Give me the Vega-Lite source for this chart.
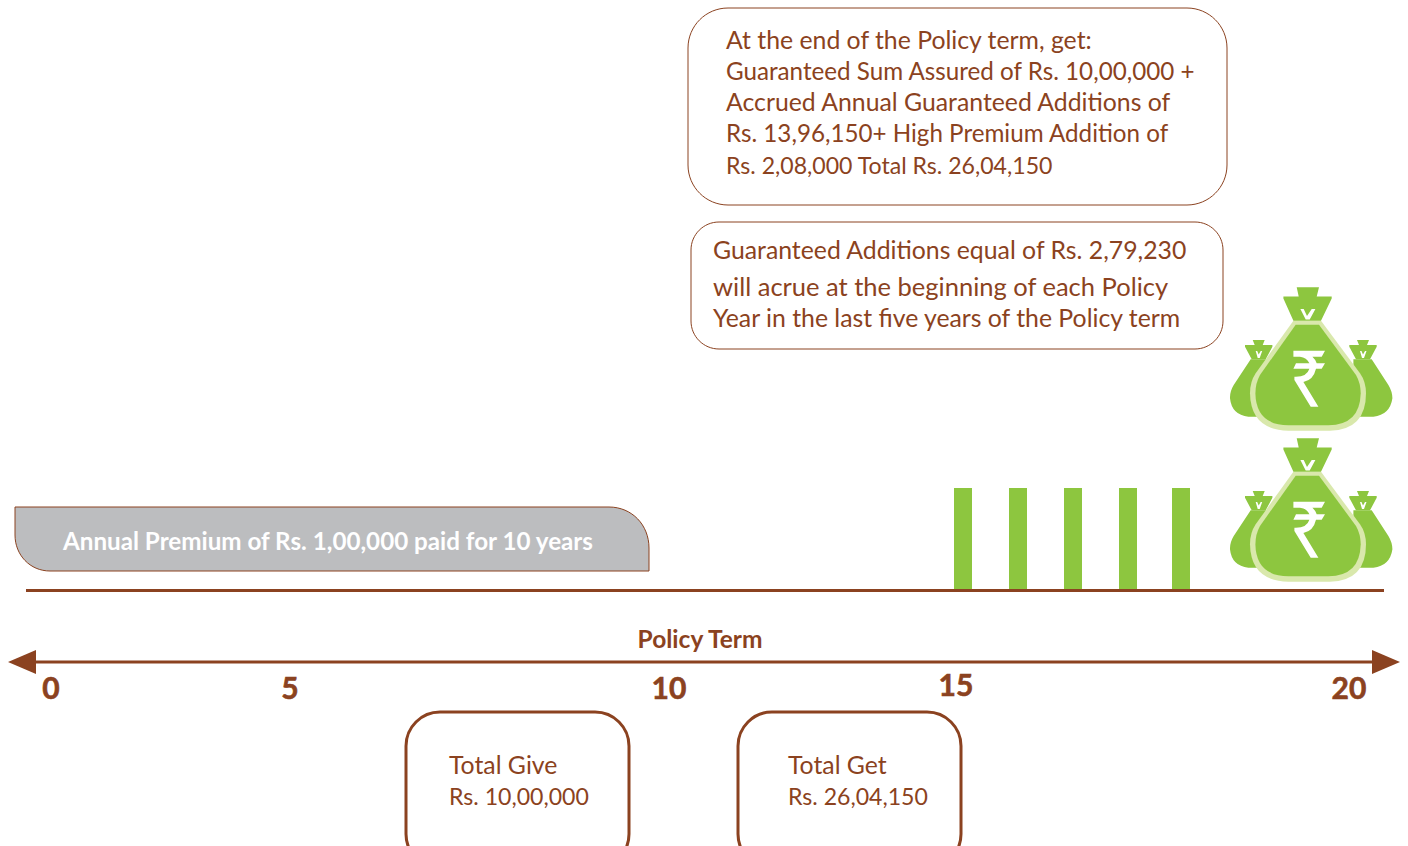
{"$schema":"https://vega.github.io/schema/vega-lite/v6.json","width":1408,"height":846,"autosize":{"type":"fit","contains":"padding"},"padding":0,"background":"white","config":{"view":{"stroke":null}},
"encoding":{"x":{"field":"x","type":"quantitative","scale":{"domain":[0,1408],"nice":false,"zero":false},"axis":null},"y":{"field":"y","type":"quantitative","scale":{"domain":[846,0],"nice":false,"zero":false},"axis":null}},
"layer":[
{"data":{"values":[{"x":332,"y":539}]},"mark":{"type":"point","filled":true,"opacity":1,"fill":"#BCBDBF","stroke":"#8B4220","strokeWidth":1,"size":40000,"shape":"M-3.17,-0.32L2.77,-0.32C3.0,-0.32,3.17,-0.14,3.17,0.09L3.17,0.32L-2.82,0.32C-3.02,0.32,-3.17,0.16,-3.17,-0.04Z"}},
{"data":{"values":[{"x":688,"x2":1227,"y":8,"y2":205}]},"mark":{"type":"rect","fill":"white","stroke":"#8B4220","strokeWidth":1,"cornerRadius":40},"encoding":{"x2":{"field":"x2"},"y2":{"field":"y2"}}},
{"data":{"values":[{"x":691,"x2":1223,"y":222,"y2":349}]},"mark":{"type":"rect","fill":"white","stroke":"#8B4220","strokeWidth":1,"cornerRadius":28},"encoding":{"x2":{"field":"x2"},"y2":{"field":"y2"}}},
{"data":{"values":[{"x":406,"x2":629,"y":712,"y2":868},{"x":738,"x2":961,"y":712,"y2":868}]},"mark":{"type":"rect","fill":"white","stroke":"#8B4220","strokeWidth":3,"cornerRadius":34,"clip":true},"encoding":{"x2":{"field":"x2"},"y2":{"field":"y2"}}},
{"data":{"values":[{"x":954,"x2":972,"y":488,"y2":590},{"x":1009,"x2":1027,"y":488,"y2":590},{"x":1064,"x2":1082,"y":488,"y2":590},{"x":1119,"x2":1137,"y":488,"y2":590},{"x":1172,"x2":1190,"y":488,"y2":590}]},"mark":{"type":"rect","fill":"#8DC63F"},"encoding":{"x2":{"field":"x2"},"y2":{"field":"y2"}}},
{"data":{"values":[{"x":26,"x2":1384,"y":590.5},{"x":36,"x2":1372,"y":662}]},"mark":{"type":"rule","stroke":"#8B4220","strokeWidth":3},"encoding":{"x2":{"field":"x2"}}},
{"data":{"values":[{"x":22,"y":662}]},"mark":{"type":"point","filled":true,"opacity":1,"fill":"#8B4220","stroke":null,"size":784,"shape":"M-1,0L1,-0.86L1,0.86Z"}},
{"data":{"values":[{"x":1386,"y":662}]},"mark":{"type":"point","filled":true,"opacity":1,"fill":"#8B4220","stroke":null,"size":784,"shape":"M1,0L-1,-0.86L-1,0.86Z"}},
{"data":{"values":[{"x":1307.7,"y":360},{"x":1307.7,"y":511}]},"mark":{"type":"point","filled":true,"opacity":1,"fill":"#8DC63F","stroke":null,"size":40000,"shape":"M-0.57,-0.007L-0.74,0.25Q-0.78,0.317,-0.777,0.383Q-0.76,0.55,-0.593,0.567L-0.41,0.567L-0.41,-0.007ZM0.64,-0.007L0.457,-0.007L0.457,0.567L0.657,0.567Q0.823,0.55,0.847,0.383Q0.847,0.317,0.807,0.25Z"}},
{"data":{"values":[{"x":1307.7,"y":360},{"x":1307.7,"y":511}]},"mark":{"type":"point","filled":true,"opacity":1,"fill":"#8DC63F","stroke":null,"size":40000,"shape":"M-0.56,-0.007L-0.627,-0.133L-0.627,-0.15L-0.53,-0.15L-0.55,-0.2L-0.43,-0.2L-0.45,-0.15L-0.353,-0.15L-0.353,-0.133L-0.42,-0.007ZM0.483,-0.007L0.416,-0.133L0.416,-0.15L0.513,-0.15L0.493,-0.2L0.613,-0.2L0.593,-0.15L0.69,-0.15L0.69,-0.133L0.623,-0.007Z"}},
{"data":{"values":[{"x":1307.7,"y":360},{"x":1307.7,"y":511}]},"mark":{"type":"point","filled":true,"opacity":1,"fill":"white","stroke":null,"size":40000,"shape":"M-0.52,-0.09L-0.505,-0.09L-0.49,-0.055L-0.47,-0.09L-0.455,-0.09L-0.48,-0.02L-0.5,-0.02ZM0.523,-0.09L0.538,-0.09L0.553,-0.055L0.573,-0.09L0.588,-0.09L0.563,-0.02L0.543,-0.02Z"}},
{"data":{"values":[{"x":1307.7,"y":360},{"x":1307.7,"y":511}]},"mark":{"type":"point","filled":true,"opacity":1,"fill":"#D9E8AC","stroke":null,"size":40000,"shape":"M-0.143,-0.393L0.133,-0.393L0.523,0.133Q0.583,0.217,0.583,0.333Q0.583,0.7,0.223,0.707L-0.193,0.707Q-0.57,0.7,-0.577,0.333Q-0.577,0.217,-0.52,0.133Z"}},
{"data":{"values":[{"x":1307.7,"y":360},{"x":1307.7,"y":511}]},"mark":{"type":"point","filled":true,"opacity":1,"fill":"#8DC63F","stroke":null,"size":40000,"shape":"M-0.12,-0.353L0.113,-0.353L0.483,0.15Q0.53,0.233,0.53,0.333Q0.523,0.65,0.207,0.653L-0.193,0.653Q-0.517,0.65,-0.523,0.333Q-0.523,0.233,-0.477,0.15Z"}},
{"data":{"values":[{"x":1307.7,"y":360},{"x":1307.7,"y":511}]},"mark":{"type":"point","filled":true,"opacity":1,"fill":"#8DC63F","stroke":null,"size":40000,"shape":"M-0.143,-0.393L-0.243,-0.615L-0.243,-0.635L-0.09,-0.635L-0.11,-0.727L0.113,-0.727L0.09,-0.635L0.24,-0.635L0.24,-0.615L0.133,-0.393Z"}},
{"data":{"values":[{"x":1307.7,"y":360},{"x":1307.7,"y":511}]},"mark":{"type":"point","filled":true,"opacity":1,"fill":"white","stroke":null,"size":40000,"shape":"M-0.073,-0.51L-0.04,-0.51L-0.007,-0.44L0.04,-0.51L0.077,-0.51L0.02,-0.405L-0.02,-0.405ZM-0.143,-0.093L0.173,-0.093L0.14,-0.033L0.047,-0.033Q0.083,0.0,0.09,0.033L0.173,0.033L0.14,0.087L0.083,0.087Q0.057,0.2,-0.043,0.22L0.107,0.467L0.03,0.467L-0.133,0.2L-0.133,0.167Q-0.01,0.173,0.017,0.087L-0.143,0.087L-0.117,0.033L0.017,0.033Q-0.01,-0.027,-0.077,-0.033L-0.143,-0.033Z"}},
{"data":{"values":[{"x":726,"y":49,"t":"At the end of the Policy term, get:"},{"x":726,"y":111,"t":"Accrued Annual Guaranteed Additions of"},{"x":713,"y":259,"t":"Guaranteed Additions equal of Rs. 2,79,230"},{"x":713,"y":327,"t":"Year in the last five years of the Policy term"},{"x":449,"y":774,"t":"Total Give"},{"x":788,"y":774,"t":"Total Get"}]},"mark":{"type":"text","font":"Lato","fontSize":24.8,"fill":"#8B4220","align":"left","baseline":"alphabetic"},"encoding":{"text":{"field":"t"}}},
{"data":{"values":[{"x":713,"y":296,"t":"will acrue at the beginning of each Policy"}]},"mark":{"type":"text","font":"Lato","fontSize":25.5,"fill":"#8B4220","align":"left","baseline":"alphabetic"},"encoding":{"text":{"field":"t"}}},
{"data":{"values":[{"x":726,"y":80,"t":"Guaranteed Sum Assured of Rs. 10,00,000 +"},{"x":726,"y":142,"t":"Rs. 13,96,150+ High Premium Addition of"}]},"mark":{"type":"text","font":"Lato","fontSize":24.2,"fill":"#8B4220","align":"left","baseline":"alphabetic"},"encoding":{"text":{"field":"t"}}},
{"data":{"values":[{"x":726,"y":174,"t":"Rs. 2,08,000 Total Rs. 26,04,150"},{"x":449,"y":805,"t":"Rs. 10,00,000"},{"x":788,"y":805,"t":"Rs. 26,04,150"}]},"mark":{"type":"text","font":"Lato","fontSize":23.1,"fill":"#8B4220","align":"left","baseline":"alphabetic"},"encoding":{"text":{"field":"t"}}},
{"data":{"values":[{"x":63,"y":550,"t":"Annual Premium of Rs. 1,00,000 paid for 10 years"}]},"mark":{"type":"text","font":"Lato","fontWeight":"bold","fontSize":24.2,"fill":"white","align":"left","baseline":"alphabetic"},"encoding":{"text":{"field":"t"}}},
{"data":{"values":[{"x":700,"y":648,"t":"Policy Term"}]},"mark":{"type":"text","font":"Lato","fontWeight":"bold","fontSize":24.5,"fill":"#8B4220","align":"center","baseline":"alphabetic"},"encoding":{"text":{"field":"t"}}},
{"data":{"values":[{"x":51,"y":699,"t":"0"},{"x":290,"y":699,"t":"5"},{"x":669,"y":699,"t":"10"},{"x":956,"y":696,"t":"15"},{"x":1349,"y":699,"t":"20"}]},"mark":{"type":"text","font":"Lato","fontWeight":"bold","fontSize":30,"fill":"#8B4220","stroke":"#8B4220","strokeWidth":0.6,"align":"center","baseline":"alphabetic"},"encoding":{"text":{"field":"t"}}}
]}
